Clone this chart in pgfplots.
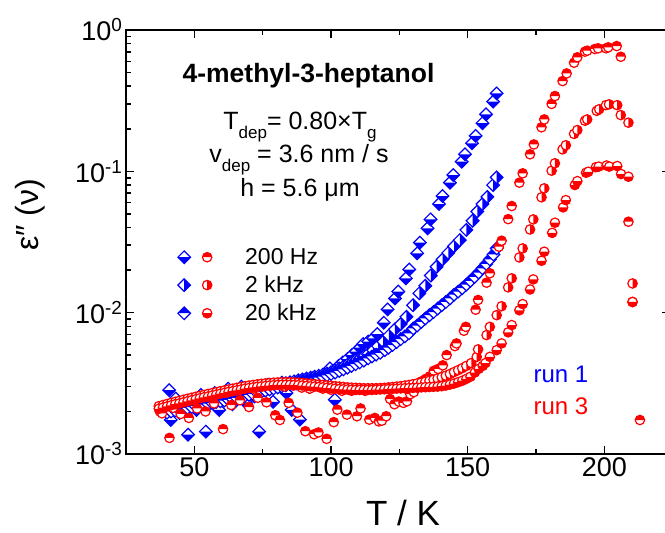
\documentclass[border=0pt]{standalone}
\usepackage{fontspec}
\setmainfont{Liberation Sans}
\usepackage{pgfplots}
\pgfplotsset{compat=1.18}

\def\dd{6.3pt}
\def\rr{4.7pt}
\newcommand\diapath{\pgfpathmoveto{\pgfqpoint{-\dd}{0pt}}\pgfpathlineto{\pgfqpoint{0pt}{\dd}}\pgfpathlineto{\pgfqpoint{\dd}{0pt}}\pgfpathlineto{\pgfqpoint{0pt}{-\dd}}\pgfpathclose}
\newcommand\cirpath{\pgfpathcircle{\pgfpointorigin}{\rr}}
\newcommand\halfmark[3]{\pgfsetlinewidth{1.2pt}\pgfsetfillcolor{white}\pgfsetstrokecolor{#1}#2\pgfusepathqfill
  \pgfsetfillcolor{#1}#3\pgfusepathqfill #2\pgfusepathqstroke}
% blue diamonds
\pgfdeclareplotmark{bdiabot}{\halfmark{blue}{\diapath}{\pgfpathmoveto{\pgfqpoint{-\dd}{0pt}}\pgfpathlineto{\pgfqpoint{0pt}{-\dd}}\pgfpathlineto{\pgfqpoint{\dd}{0pt}}\pgfpathclose}}
\pgfdeclareplotmark{bdiaright}{\halfmark{blue}{\diapath}{\pgfpathmoveto{\pgfqpoint{0pt}{\dd}}\pgfpathlineto{\pgfqpoint{\dd}{0pt}}\pgfpathlineto{\pgfqpoint{0pt}{-\dd}}\pgfpathclose}}
\pgfdeclareplotmark{bdiatop}{\halfmark{blue}{\diapath}{\pgfpathmoveto{\pgfqpoint{-\dd}{0pt}}\pgfpathlineto{\pgfqpoint{0pt}{\dd}}\pgfpathlineto{\pgfqpoint{\dd}{0pt}}\pgfpathclose}}
% red circles
\pgfdeclareplotmark{rcirtop}{\halfmark{red}{\cirpath}{\pgfpathmoveto{\pgfqpoint{\rr}{0pt}}\pgfpatharc{0}{180}{\rr}\pgfpathclose}}
\pgfdeclareplotmark{rcirright}{\halfmark{red}{\cirpath}{\pgfpathmoveto{\pgfqpoint{0pt}{-\rr}}\pgfpatharc{-90}{90}{\rr}\pgfpathclose}}
\pgfdeclareplotmark{rcirbot}{\halfmark{red}{\cirpath}{\pgfpathmoveto{\pgfqpoint{-\rr}{0pt}}\pgfpatharc{180}{360}{\rr}\pgfpathclose}}

\newcommand\sub[1]{\raisebox{-9pt}{\fontsize{17}{17}\selectfont #1}}

\begin{document}
\begin{tikzpicture}
\useasboundingbox (-126pt,-79pt) rectangle (539pt,454pt);
\begin{axis}[
  scale only axis, width=544pt, height=424pt,
  xmin=25, xmax=224, ymode=log, ymin=1e-3, ymax=1,
  axis line style={line width=2pt},
  tick style={line width=1.5pt, black},
  major tick length=8pt, minor tick length=5pt,
  tick align=inside,
  xtick={50,100,150,200}, xticklabels={50,100,150,200},
  minor xtick={75,125,175},
  ytick={0.001,0.01,0.1,1},
  yticklabels={10\textsuperscript{-3},10\textsuperscript{-2},10\textsuperscript{-1},10\textsuperscript{0}},
  minor ytick={0.002,0.003,0.004,0.005,0.006,0.007,0.008,0.009,0.02,0.03,0.04,0.05,0.06,0.07,0.08,0.09,0.2,0.3,0.4,0.5,0.6,0.7,0.8,0.9},
  tick label style={font=\fontsize{27}{27}\selectfont},
  legend style={draw=none, fill=none, at={(axis description cs:0.095,0.49)}, anchor=north west,
    font=\fontsize{23}{23}\selectfont, row sep=6pt, inner sep=0pt, nodes={inner sep=2pt}},
  legend cell align=left,
]
% ---------- run 1 (blue) ----------
\addplot[only marks, mark=bdiabot, forget plot] coordinates {
(40.8,0.00283)(41.4,0.00174)(43.2,0.00247)(44.6,0.00195)(46.1,0.00215)(47.7,0.00137)(49.2,0.00240)(50.8,0.00205)
(52.4,0.00262)(54.2,0.00144)(55.8,0.00228)(57.5,0.00270)(59.1,0.00205)(60.7,0.00255)(62.4,0.00290)(64.0,0.00225)
(65.6,0.00270)(67.2,0.00300)(68.8,0.00232)(70.4,0.00290)(72.0,0.00255)(73.7,0.00144)(75.3,0.00285)(77.0,0.00310)
(78.8,0.00234)(80.4,0.00300)(82.0,0.00320)(83.7,0.00270)(85.6,0.00205)(87.2,0.00315)(88.6,0.00175)(90.2,0.00330)
(91.8,0.00300)(93.4,0.00345)(95.0,0.00320)(96.7,0.00350)(98.2,0.00365)(99.6,0.00403)(101.4,0.00242)(102.8,0.00420)
(104.3,0.00445)(106.0,0.00470)(107.6,0.00500)(109.1,0.00530)(110.6,0.00565)(111.8,0.00600)(113.6,0.00625)(115.4,0.00658)
(116.9,0.00706)(119.3,0.00849)(120.7,0.01054)(123.4,0.0126)(124.6,0.0141)(127.4,0.0175)(128.6,0.0202)(131.5,0.0263)
(132.5,0.0313)(135.3,0.0395)(136.4,0.0457)(139.5,0.0587)(140.8,0.0669)(143.5,0.0831)(144.7,0.0942)(147.8,0.117)
(149.0,0.132)(151.6,0.158)(152.9,0.178)(155.4,0.219)(156.7,0.253)(159.3,0.311)(160.6,0.356)
};
\addplot[only marks, mark=bdiaright, forget plot] coordinates {
(40.0,0.00205)(41.5,0.00208)(43.0,0.00212)(44.5,0.00215)(46.0,0.00218)(47.5,0.00221)(49.0,0.00224)(50.5,0.00227)
(52.0,0.00230)(53.5,0.00233)(55.0,0.00236)(56.5,0.00239)(58.0,0.00242)(59.5,0.00245)(61.0,0.00248)(62.5,0.00252)
(64.0,0.00256)(65.5,0.00260)(67.0,0.00264)(68.5,0.00268)(70.0,0.00272)(71.5,0.00277)(73.0,0.00282)(74.5,0.00287)
(76.0,0.00292)(77.5,0.00297)(79.0,0.00302)(80.5,0.00307)(82.0,0.00312)(83.5,0.00317)(85.0,0.00322)(86.5,0.00327)
(88.0,0.00332)(89.5,0.00337)(91.0,0.00342)(92.5,0.00347)(94.0,0.00352)(95.5,0.00358)(97.0,0.00364)(98.5,0.00371)
(100.0,0.00379)(101.5,0.00390)(103.0,0.00402)(104.5,0.00415)(106.0,0.00428)(107.5,0.00442)(109.0,0.00457)(110.5,0.00472)
(112.0,0.00490)(113.5,0.00508)(115.4,0.00543)(117.2,0.00580)(119.1,0.00623)(121.2,0.00690)(123.4,0.00762)(125.5,0.00830)
(127.6,0.00935)(130.0,0.0113)(132.3,0.0137)(134.5,0.0155)(136.5,0.0183)(138.6,0.0211)(140.8,0.0238)(142.9,0.0265)
(145.0,0.0295)(147.1,0.0326)(149.5,0.0385)(151.8,0.0447)(153.5,0.0520)(155.4,0.0587)(157.2,0.0660)(159.3,0.0800)(160.6,0.0906)
};
\addplot[only marks, mark=bdiatop, forget plot] coordinates {
(40.0,0.00196)(41.5,0.00200)(43.0,0.00203)(44.5,0.00206)(46.0,0.00209)(47.5,0.00212)(49.0,0.00215)(50.5,0.00218)
(52.0,0.00221)(53.5,0.00224)(55.0,0.00227)(56.5,0.00230)(58.0,0.00233)(59.5,0.00236)(61.0,0.00239)(62.5,0.00242)
(64.0,0.00246)(65.5,0.00250)(67.0,0.00254)(68.5,0.00258)(70.0,0.00262)(71.5,0.00266)(73.0,0.00271)(74.5,0.00276)
(76.0,0.00281)(77.5,0.00286)(79.0,0.00291)(80.5,0.00296)(82.0,0.00301)(83.5,0.00306)(85.0,0.00311)(86.5,0.00316)
(88.0,0.00321)(89.5,0.00326)(91.0,0.00331)(92.5,0.00336)(94.0,0.00341)(95.5,0.00347)(97.0,0.00353)(98.5,0.00360)
(100.0,0.00368)(101.5,0.00377)(103.0,0.00387)(104.5,0.00397)(106.0,0.00408)(107.5,0.00420)(109.0,0.00432)(110.5,0.00445)
(112.0,0.00458)(113.6,0.00475)(115.0,0.00490)(116.5,0.00505)(118.0,0.00520)(119.7,0.00543)(121.0,0.00565)(122.5,0.00590)
(124.0,0.00620)(125.5,0.00650)(127.0,0.00680)(128.5,0.00715)(130.1,0.00774)(131.5,0.00810)(133.0,0.00860)(134.5,0.00910)
(136.0,0.00960)(137.5,0.01010)(139.0,0.01070)(140.5,0.01130)(142.0,0.01190)(143.5,0.01260)(145.0,0.01340)(146.5,0.01410)
(148.0,0.01490)(149.5,0.01580)(151.0,0.01680)(152.5,0.01790)(154.0,0.01920)(155.4,0.02060)(156.8,0.02210)(158.1,0.02380)
(159.4,0.02580)(160.6,0.02850)
};
% ---------- run 3 (red) ----------
\addplot[only marks, mark=rcirtop, forget plot] coordinates {
(37.4,0.00200)(38.2,0.00194)(39.6,0.00222)(40.9,0.00130)(42.2,0.00212)(43.6,0.00230)(45.0,0.00192)(46.5,0.00240)
(48.0,0.00180)(49.5,0.00248)(51.0,0.00210)(52.6,0.00258)(54.1,0.00200)(55.7,0.00265)(57.2,0.00228)(58.8,0.00275)
(60.5,0.00150)(62.0,0.00272)(63.5,0.00222)(65.0,0.00285)(66.7,0.00240)(68.3,0.00295)(70.0,0.00215)(71.6,0.00290)
(73.2,0.00250)(74.8,0.00300)(76.4,0.00232)(78.0,0.00305)(79.6,0.00188)(81.3,0.00174)(82.9,0.00300)(84.5,0.00230)
(86.1,0.00305)(87.7,0.00196)(89.3,0.00295)(90.6,0.00145)(92.2,0.00290)(93.8,0.00138)(95.4,0.00142)(97.0,0.00290)
(98.4,0.00128)(100.0,0.00285)(101.0,0.00168)(102.3,0.00206)(104.0,0.00280)(105.8,0.00190)(107.5,0.00280)(109.5,0.00185)
(110.8,0.00210)(112.5,0.00280)(114.0,0.00175)(116.0,0.00180)(117.5,0.00170)(118.6,0.00172)(120.2,0.00185)(121.6,0.00245)
(123.2,0.00225)(124.8,0.00235)(126.5,0.00230)(127.8,0.00236)(129.0,0.00265)(130.3,0.00274)(131.7,0.00300)(133.0,0.00326)
(134.6,0.00340)(136.2,0.00355)(137.6,0.00388)(139.2,0.00400)(140.9,0.00424)(142.3,0.00501)(145.3,0.00580)(145.9,0.00606)
(148.6,0.00745)(149.3,0.00794)(152.9,0.01050)(153.8,0.01230)(156.9,0.01630)(158.1,0.01900)(161.4,0.02930)(162.4,0.03230)
(164.8,0.04590)(166.1,0.05680)(168.9,0.08310)(170.1,0.09680)(172.8,0.13200)(174.2,0.15500)(177.0,0.20500)(178.0,0.23300)
(180.7,0.30000)(181.9,0.34100)(184.7,0.43500)(186.2,0.49300)(188.9,0.58700)(190.1,0.64100)(192.9,0.70300)(193.7,0.71400)
(196.5,0.73400)(197.7,0.74200)(200.6,0.74200)(201.4,0.75400)(204.5,0.77000)(206.0,0.64700)(208.8,0.04400)(210.3,0.01190)
(213.0,0.00174)
};
\addplot[only marks, mark=rcirright, forget plot] coordinates {
(37.0,0.00218)(38.5,0.00222)(40.0,0.00226)(41.5,0.00230)(43.0,0.00234)(44.5,0.00238)(46.0,0.00242)(47.5,0.00246)
(49.0,0.00250)(50.5,0.00254)(52.0,0.00258)(53.5,0.00262)(55.0,0.00266)(56.5,0.00270)(58.0,0.00274)(59.5,0.00278)
(61.0,0.00282)(62.5,0.00286)(64.0,0.00290)(65.5,0.00294)(67.0,0.00298)(68.5,0.00302)(70.0,0.00305)(71.5,0.00308)
(73.0,0.00311)(74.5,0.00314)(76.0,0.00316)(77.5,0.00318)(79.0,0.00320)(80.5,0.00321)(82.0,0.00322)(83.5,0.00322)
(85.0,0.00322)(86.5,0.00321)(88.0,0.00320)(89.5,0.00318)(91.0,0.00316)(92.5,0.00314)(94.0,0.00312)(95.5,0.00310)
(97.0,0.00308)(98.5,0.00306)(100.0,0.00304)(101.5,0.00302)(103.0,0.00300)(104.5,0.00298)(106.0,0.00296)(107.5,0.00295)
(109.0,0.00294)(110.5,0.00293)(112.0,0.00292)(113.5,0.00292)(115.0,0.00292)(116.5,0.00292)(118.0,0.00293)(119.5,0.00294)
(121.0,0.00296)(122.5,0.00298)(124.0,0.00300)(125.5,0.00302)(127.0,0.00305)(128.5,0.00308)(130.0,0.00312)(131.5,0.00316)
(133.0,0.00320)(134.5,0.00325)(136.0,0.00330)(137.5,0.00336)(139.0,0.00343)(140.5,0.00350)(142.0,0.00358)(143.5,0.00368)
(145.0,0.00380)(146.5,0.00392)(148.0,0.00405)(149.5,0.00420)(151.3,0.00440)(153.3,0.00487)(153.8,0.00550)(156.9,0.00694)
(158.1,0.00794)(160.6,0.00960)(162.4,0.01110)(164.8,0.01510)(166.1,0.01750)(168.9,0.02460)(170.1,0.02850)(172.8,0.03880)
(174.0,0.04570)(177.0,0.06550)(178.0,0.07580)(180.7,0.10100)(181.9,0.11400)(184.7,0.14300)(185.9,0.15300)(188.9,0.18400)
(190.1,0.19600)(192.9,0.22800)(193.7,0.23300)(197.2,0.26800)(198.1,0.27500)(200.6,0.29400)(201.7,0.29800)(204.7,0.29400)
(206.0,0.25000)(208.8,0.22100)(210.3,0.01610)
};
\addplot[only marks, mark=rcirbot, forget plot] coordinates {
(37.0,0.00209)(38.5,0.00213)(40.0,0.00217)(41.5,0.00221)(43.0,0.00225)(44.5,0.00228)(46.0,0.00232)(47.5,0.00236)
(49.0,0.00240)(50.5,0.00244)(52.0,0.00248)(53.5,0.00252)(55.0,0.00255)(56.5,0.00259)(58.0,0.00263)(59.5,0.00267)
(61.0,0.00271)(62.5,0.00275)(64.0,0.00278)(65.5,0.00282)(67.0,0.00286)(68.5,0.00290)(70.0,0.00293)(71.5,0.00296)
(73.0,0.00299)(74.5,0.00301)(76.0,0.00303)(77.5,0.00305)(79.0,0.00307)(80.5,0.00308)(82.0,0.00309)(83.5,0.00309)
(85.0,0.00309)(86.5,0.00308)(88.0,0.00307)(89.5,0.00305)(91.0,0.00303)(92.5,0.00301)(94.0,0.00300)(95.5,0.00298)
(97.0,0.00296)(98.5,0.00294)(100.0,0.00292)(101.5,0.00290)(103.0,0.00288)(104.5,0.00287)(106.0,0.00286)(107.5,0.00285)
(109.0,0.00284)(110.5,0.00284)(112.0,0.00284)(113.5,0.00284)(115.0,0.00284)(116.5,0.00285)(118.0,0.00286)(119.5,0.00287)
(121.0,0.00288)(122.5,0.00289)(124.0,0.00290)(125.5,0.00291)(127.0,0.00292)(128.5,0.00293)(130.0,0.00294)(131.5,0.00295)
(133.0,0.00296)(134.5,0.00297)(136.0,0.00298)(137.5,0.00299)(139.0,0.00300)(140.5,0.00302)(142.0,0.00305)(143.5,0.00310)
(145.0,0.00315)(146.5,0.00322)(148.0,0.00330)(149.5,0.00340)(151.0,0.00352)(152.6,0.00377)(154.0,0.00400)(155.5,0.00420)
(156.5,0.00440)(158.1,0.00487)(160.6,0.00543)(162.4,0.00606)(164.8,0.00726)(166.1,0.00817)(168.9,0.01040)(170.1,0.01150)
(172.8,0.01460)(174.0,0.01720)(177.0,0.02330)(178.0,0.02700)(180.9,0.03670)(181.9,0.04330)(184.9,0.05560)(185.9,0.06260)
(189.2,0.08000)(190.1,0.08530)(193.3,0.09780)(194.1,0.09930)(196.9,0.10700)(197.9,0.10800)(200.8,0.11000)(201.8,0.10800)
(204.7,0.10900)(206.1,0.09570)(208.8,0.09160)(210.3,0.01190)
};
\addlegendimage{legend image code/.code={\pgfuseplotmark{bdiabot}\pgftransformshift{\pgfqpoint{23pt}{0pt}}\pgfuseplotmark{rcirtop}\pgfpathmoveto{\pgfqpoint{36pt}{0pt}}\pgfusepath{}}}
\addlegendimage{legend image code/.code={\pgfuseplotmark{bdiaright}\pgftransformshift{\pgfqpoint{23pt}{0pt}}\pgfuseplotmark{rcirright}\pgfpathmoveto{\pgfqpoint{36pt}{0pt}}\pgfusepath{}}}
\addlegendimage{legend image code/.code={\pgfuseplotmark{bdiatop}\pgftransformshift{\pgfqpoint{23pt}{0pt}}\pgfuseplotmark{rcirbot}\pgfpathmoveto{\pgfqpoint{36pt}{0pt}}\pgfusepath{}}}
\legend{200 Hz, 2 kHz, 20 kHz}
\end{axis}
\node[anchor=base, font=\fontsize{26.5}{26.5}\selectfont\bfseries] at (182.5pt,371pt) {4-methyl-3-heptanol};
\node[anchor=base, font=\fontsize{25}{25}\selectfont] at (174pt,324pt) {T\sub{dep}= 0.80×T\sub{g}};
\node[anchor=base, font=\fontsize{25}{25}\selectfont] at (173pt,291pt) {v\sub{dep} = 3.6 nm / s};
\node[anchor=base, font=\fontsize{25}{25}\selectfont] at (174pt,257pt) {h = 5.6 μm};
\node[anchor=base west, text=blue, font=\fontsize{24}{24}\selectfont] at (404pt,71pt) {run 1};
\node[anchor=base west, text=red, font=\fontsize{24}{24}\selectfont] at (404pt,39pt) {run 3};
\node[rotate=90, font=\fontsize{32}{32}\selectfont] at (-96pt,239pt) {ε″ (ν)};
\node[anchor=base, font=\fontsize{35}{35}\selectfont] at (277pt,-72pt) {T / K};
\end{tikzpicture}
\end{document}
